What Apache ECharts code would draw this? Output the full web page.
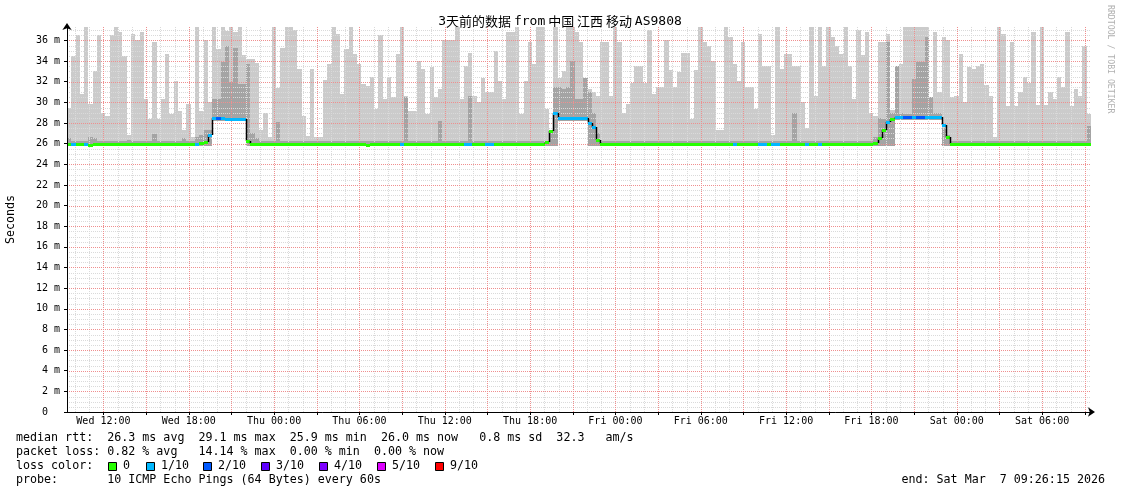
<!DOCTYPE html>
<html><head><meta charset="utf-8">
<script src="https://cdn.jsdelivr.net/npm/echarts@6/dist/echarts.min.js"></script>
<style>html,body{margin:0;padding:0;background:#fff}#c{width:1121px;height:494px}</style>
</head><body><div id="c"></div>
<script>
// ---- data (18-minute bins, 3 days ending Sat Mar 7 09:26:15 2026) ----
const binHours = 0.3;
const hiMs = [
29.5,34.5,36.5,30.8,37.3,29.8,33,36.5,29,28.7,36.5,37.3,36.8,34.5,26.8,36.6,36,36.8,30.3,28.4,
35.8,28.4,30.3,34.7,28.9,32.1,29.2,27.3,29.8,26.6,37.3,29.2,36,30,37.3,35.2,37.3,36.9,37.3,36.8,
37.3,34.6,34.2,34.2,33.8,27.3,29,26.6,37.3,31.4,35.3,37.3,37.3,37,33.2,28.7,26.7,33.2,26.6,26.6,
32.2,33.7,37.3,36.6,30.8,35.2,37.3,34.7,33.7,31.8,31.6,32.5,29.4,36.5,30.3,32.5,30.5,34.7,37.3,30.6,
29.2,29.2,34,33.2,28.9,33.4,30.5,31.3,36,36,36,37.3,30.3,33.5,34.8,30.6,30,32.4,31,31,
35,32.1,30.3,36.8,36.8,37.3,28.9,32.1,35.8,33.7,37.3,37.3,29.4,27.3,37.3,32.4,33,37.3,37.3,36.8,
35.8,32.4,31.3,31,30.6,35.8,35.8,30.6,37.3,35.8,29,29.8,31.9,33.5,33.5,31.9,37,30.8,31.5,31.5,
36,33.1,31.5,32.9,34.8,34.8,28.4,33.1,37.3,35.8,35.5,34,27.3,27.3,37.3,36.3,33.7,32.1,35.8,31.5,
31.5,29.4,36.6,33.5,33.5,26.8,37.3,33.2,34.7,34.7,33.5,33.5,30,27.5,37.3,30.6,37.3,33.5,37.3,36.3,
35.5,34.7,37.3,33.5,30.3,37,34.6,36.8,29,28.7,35.8,35.8,36.6,29.3,33.5,33.7,37.3,37.3,37.3,37.3,
37.3,37.3,30.5,36.8,31,36.3,36,30.5,30.6,34.7,30,33.4,33.2,33.5,33.7,31.7,30.6,26.6,37.3,36.6,
29.6,35.8,29.6,31,32.5,31.9,36.8,29.7,37.3,29.7,31,30.3,32.5,31.5,36.8,29.6,31.3,30.6,35.5,28.9
];
const midMs = [
26.5,26.3,26.3,26.3,26.3,26.6,26.5,26.3,26.3,26.3,26.3,26.3,26.3,26.3,26.4,26.3,26.3,26.3,26.3,26.3,
26.9,26.3,26.3,26.3,26.3,26.3,26.3,26.5,26.3,26.3,26.6,26.8,27.3,27.3,30.3,30.3,33.9,35.5,32,35.3,
31.8,31.8,33.7,27,26.5,26.3,26.3,26.3,26.3,28.1,26.3,26.3,26.3,26.3,26.3,26.3,26.3,26.3,26.3,26.3,
26.3,26.3,26.3,26.3,26.3,26.3,26.3,26.3,26.3,26.3,26.3,26.3,26.3,26.3,26.3,26.3,26.3,26.3,26.3,30.5,
26.3,26.3,26.3,26.3,26.3,26.3,26.3,28.2,26.3,26.3,26.3,26.3,26.3,26.3,30.6,26.3,26.3,26.3,26.3,26.3,
26.3,26.3,26.3,26.3,26.3,26.3,26.3,26.3,26.3,26.3,26.3,26.3,26.3,27,31.5,31.5,31.3,31.5,34,30.3,
30.3,32.4,31,29,27,26.3,26.3,26.3,26.3,26.3,26.3,26.3,26.3,26.3,26.3,26.3,26.3,26.3,26.3,26.3,
26.3,26.3,26.3,26.3,26.3,26.3,26.3,26.3,26.3,26.3,26.3,26.3,26.3,26.3,26.3,26.3,26.3,26.3,26.3,26.3,
26.3,26.3,26.3,26.3,26.3,26.3,26.3,26.3,26.3,26.3,29,26.3,26.3,26.3,26.3,26.3,26.3,26.3,26.3,26.3,
26.3,26.3,26.3,26.3,26.3,26.3,26.3,26.3,26.3,26.6,28.5,28.4,35.8,29,33.5,29,28.9,28.9,32.3,33.9,
33.9,36.3,30.5,29,29,27.5,26.8,26.3,26.3,26.3,26.3,26.3,26.3,26.3,26.3,26.3,26.3,26.3,26.3,26.3,
26.3,26.3,26.3,26.3,26.3,26.3,26.3,26.3,26.3,26.3,26.3,26.3,26.3,26.3,26.3,26.3,26.3,26.3,26.3,27.7
];
const loMs = [
25.75,25.75,25.75,25.75,25.75,25.75,25.75,25.75,25.75,25.75,25.75,25.75,25.75,25.75,25.75,25.75,25.75,25.75,25.75,25.75,
25.75,25.75,25.75,25.75,25.75,25.75,25.75,25.75,25.75,25.75,25.75,25.75,25.75,25.75,28.2,28.2,28.2,28.2,28.2,28.2,
28.2,28.2,25.75,25.75,25.75,25.75,25.75,25.75,25.75,25.75,25.75,25.75,25.75,25.75,25.75,25.75,25.75,25.75,25.75,25.75,
25.75,25.75,25.75,25.75,25.75,25.75,25.75,25.75,25.75,25.75,25.75,25.75,25.75,25.75,25.75,25.75,25.75,25.75,25.75,25.75,
25.75,25.75,25.75,25.75,25.75,25.75,25.75,25.75,25.75,25.75,25.75,25.75,25.75,25.75,25.75,25.75,25.75,25.75,25.75,25.75,
25.75,25.75,25.75,25.75,25.75,25.75,25.75,25.75,25.75,25.75,25.75,25.75,25.75,25.75,25.75,28.2,28.2,28.2,28.2,28.2,
28.2,28.2,25.75,25.75,25.75,25.75,25.75,25.75,25.75,25.75,25.75,25.75,25.75,25.75,25.75,25.75,25.75,25.75,25.75,25.75,
25.75,25.75,25.75,25.75,25.75,25.75,25.75,25.75,25.75,25.75,25.75,25.75,25.75,25.75,25.75,25.75,25.75,25.75,25.75,25.75,
25.75,25.75,25.75,25.75,25.75,25.75,25.75,25.75,25.75,25.75,25.75,25.75,25.75,25.75,25.75,25.75,25.75,25.75,25.75,25.75,
25.75,25.75,25.75,25.75,25.75,25.75,25.75,25.75,25.75,25.75,25.75,25.75,25.75,25.75,28.3,28.3,28.3,28.3,28.3,28.3,
28.3,28.3,28.3,28.3,28.3,25.75,25.75,25.75,25.75,25.75,25.75,25.75,25.75,25.75,25.75,25.75,25.75,25.75,25.75,25.75,
25.75,25.75,25.75,25.75,25.75,25.75,25.75,25.75,25.75,25.75,25.75,25.75,25.75,25.75,25.75,25.75,25.75,25.75,25.75,25.75
];
const medianMs = [
26.0,26.0,26.0,26.0,26.0,25.9,26.0,26.0,26.0,26.0,26.0,26.0,26.0,26.0,26.0,26.0,26.0,26.0,26.0,26.0,
26.0,26.0,26.0,26.0,26.0,26.0,26.0,26.0,26.0,26.0,26.0,26.05,26.2,26.8,28.5,28.5,28.45,28.4,28.4,28.4,
28.4,28.35,26.3,26.0,26.0,26.0,26.0,26.0,26.0,26.0,26.0,26.0,26.0,26.0,26.0,26.0,26.0,26.0,26.0,26.0,
26.0,26.0,26.0,26.0,26.0,26.0,26.0,26.0,26.0,26.0,25.9,26.0,26.0,26.0,26.0,26.0,26.0,26.0,26.0,26.0,
26.0,26.0,26.0,26.0,26.0,26.0,26.0,26.0,26.0,26.0,26.0,26.0,26.0,26.0,26.0,26.0,26.0,26.0,26.0,26.0,
26.0,26.0,26.0,26.0,26.0,26.0,26.0,26.0,26.0,26.0,26.0,26.0,26.2,27.2,29.0,28.5,28.5,28.5,28.5,28.5,
28.5,28.45,28.0,27.6,26.4,26.0,26.0,26.0,26.0,26.0,26.0,26.0,26.0,26.0,26.0,26.0,26.0,26.0,26.0,26.0,
26.0,26.0,26.0,26.0,26.0,26.0,26.0,26.0,26.0,26.0,26.0,26.0,26.0,26.0,26.0,26.0,26.0,26.0,26.0,26.0,
26.0,26.0,26.0,26.0,26.0,26.0,26.0,26.0,26.0,26.0,26.0,26.0,26.0,26.0,26.0,26.0,26.0,26.0,26.0,26.0,
26.0,26.0,26.0,26.0,26.0,26.0,26.0,26.0,26.0,26.1,26.5,27.3,28.1,28.4,28.55,28.55,28.55,28.55,28.55,28.55,
28.55,28.55,28.55,28.55,28.55,27.8,26.6,26.0,26.0,26.0,26.0,26.0,26.0,26.0,26.0,26.0,26.0,26.0,26.0,26.0,
26.0,26.0,26.0,26.0,26.0,26.0,26.0,26.0,26.0,26.0,26.0,26.0,26.0,26.0,26.0,26.0,26.0,26.0,26.0,26.0
];
const lossPings = [
0,1,0,0,1,0,0,0,0,0,0,0,0,0,0,0,0,0,0,0,
0,0,0,0,0,0,0,0,0,0,1,0,0,1,1,2,1,1,1,1,
1,1,0,0,0,0,0,0,0,0,0,0,0,0,0,0,0,0,0,0,
0,0,0,0,0,0,0,0,0,0,0,0,0,0,0,0,0,0,1,0,
0,0,0,0,0,0,0,0,0,0,0,0,0,1,1,0,0,0,1,1,
0,0,0,0,0,0,0,0,0,0,0,0,0,0,1,1,1,1,1,1,
1,1,1,1,0,0,0,0,0,0,0,0,0,0,0,0,0,0,0,0,
0,0,0,0,0,0,0,0,0,0,0,0,0,0,0,0,1,0,0,0,
0,0,1,1,0,1,1,0,0,0,0,0,0,1,0,0,1,0,0,0,
0,0,0,0,0,0,0,0,0,0,0,0,1,0,1,1,2,2,1,2,
2,1,1,1,1,1,0,0,0,0,0,0,0,0,0,0,0,0,0,0,
0,0,0,0,0,0,0,0,0,0,0,0,0,0,0,0,0,0,0,0
];
const tickHours = [2.5625,8.5625,14.5625,20.5625,26.5625,32.5625,38.5625,44.5625,50.5625,56.5625,62.5625,68.5625];
const tickLabels = ['Wed 12:00','Wed 18:00','Thu 00:00','Thu 06:00','Thu 12:00','Thu 18:00','Fri 00:00','Fri 06:00','Fri 12:00','Fri 18:00','Sat 00:00','Sat 06:00'];
const yTickMs = [0,2,4,6,8,10,12,14,16,18,20,22,24,26,28,30,32,34,36];
const lossSteps = [0,1,2,3,4,5,9];
const lossColors = ['#26ff00','#00b8ff','#0059ff','#5e00ff','#7e00ff','#dd00ff','#ff0000'];
const lossNames = ['0','1/10','2/10','3/10','4/10','5/10','9/10'];
const titleParts = ['3','天前的数据\u00a0','from','\u00a0中国\u00a0江西\u00a0移动\u00a0','AS9808'];
const infoLines = [
 'median rtt:  26.3 ms avg  29.1 ms max  25.9 ms min  26.0 ms now   0.8 ms sd  32.3   am/s',
 'packet loss: 0.82 % avg   14.14 % max  0.00 % min  0.00 % now',
 'loss color:',
 'probe:       10 ICMP Echo Pings (64 Bytes) every 60s'
];
const endText = 'end: Sat Mar  7 09:26:15 2026';

// ---- build ----
const MONO = '"DejaVu Sans Mono", monospace';
const X_MAX = 72, Y_MAX = 37.3;
function lossColor(n){ let k=0; for(let j=0;j<lossSteps.length;j++){ if(n>=lossSteps[j]) k=j; } return lossColors[k]; }

const smokeData = hiMs.map((h,i)=>[i*binHours,(i+1)*binHours,loMs[i],midMs[i],h]);
const medData = medianMs.map((m,i)=>[i*binHours,(i+1)*binHours,m,i?medianMs[i-1]:m,lossPings[i]]);
const majorX = [];
for(let k=0;k<24;k++) majorX.push(tickHours[0]+3*k);
const gridData = [];
for(let h=0.5625; h<X_MAX; h+=1){ const mj = majorX.some(m=>Math.abs(m-h)<1e-6); gridData.push([h,0,0,mj?1:0]); }
for(let v=0.5; v<=37.01; v+=0.5){ const mj = Math.abs(v/2-Math.round(v/2))<1e-6; gridData.push([0,v,1,mj?1:0]); }

const chart = echarts.init(document.getElementById('c'), null, {renderer:'canvas', width:1121, height:494});

const graphic = [];
graphic.push({type:'text', x:560, y:21.5, style:{
  text: '{a|'+titleParts[0]+'}{c|'+titleParts[1]+'}{a|'+titleParts[2]+'}{c|'+titleParts[3]+'}{a|'+titleParts[4]+'}',
  rich:{a:{fontFamily:MONO, fontSize:13, fill:'#000'}, c:{fontFamily:'"Noto Sans CJK SC"', fontSize:13, fill:'#000'}},
  align:'center', verticalAlign:'middle'}});
graphic.push({type:'text', x:11, y:219.5, rotation:Math.PI/2, style:{text:'Seconds', fontFamily:MONO, fontSize:11.67, fill:'#000', align:'center', verticalAlign:'middle'}});
graphic.push({type:'text', x:1110.5, y:5, rotation:-Math.PI/2, style:{text:'RRDTOOL / TOBI OETIKER', fontFamily:MONO, fontSize:8.2, fill:'#b0b0b0', align:'left', verticalAlign:'middle'}});
infoLines.forEach((t,i)=>{
  graphic.push({type:'text', x:16, y:438+14*i, style:{text:t, fontFamily:MONO, fontSize:11.67, fill:'#000', align:'left', verticalAlign:'middle'}});
});
const boxX = [108.5,146.5,203.5,261.5,319.5,377.5,435.5];
lossNames.forEach((n,i)=>{
  graphic.push({type:'rect', shape:{x:boxX[i], y:462.5, width:8, height:8}, style:{fill:lossColors[i], stroke:'#000', lineWidth:1}});
  graphic.push({type:'text', x:boxX[i]+14.5, y:466, style:{text:n, fontFamily:MONO, fontSize:11.67, fill:'#000', align:'left', verticalAlign:'middle'}});
});
graphic.push({type:'text', x:1105, y:480, style:{text:endText, fontFamily:MONO, fontSize:11.67, fill:'#000', align:'right', verticalAlign:'middle'}});

const option = {
  animation:false,
  backgroundColor:'#ffffff',
  grid:{left:67, top:27, width:1024, height:385, show:false},
  xAxis:{type:'value', min:0, max:X_MAX, z:10,
    axisLine:{show:true, onZero:false, lineStyle:{color:'#000', width:1}, symbol:['none','arrow'], symbolSize:[7,7], symbolOffset:[0,4]},
    axisTick:{show:true, customValues:majorX, length:3, lineStyle:{color:'#000'}},
    axisLabel:{show:true, customValues:tickHours, hideOverlap:false, margin:4,
      formatter:v=>{ const k=tickHours.findIndex(h=>Math.abs(h-v)<1e-6); return k>=0?tickLabels[k]:''; },
      fontFamily:MONO, fontSize:10, color:'#000'},
    splitLine:{show:false}, minorTick:{show:false}, minorSplitLine:{show:false}},
  yAxis:{type:'value', min:0, max:Y_MAX, z:10,
    axisLine:{show:true, onZero:false, lineStyle:{color:'#000', width:1}, symbol:['none','arrow'], symbolSize:[7,7], symbolOffset:[0,4]},
    axisTick:{show:true, customValues:yTickMs, length:3, lineStyle:{color:'#000'}},
    axisLabel:{show:true, customValues:yTickMs, hideOverlap:false, margin:7,
      formatter:v=> (v===0 ? '0  ' : v+' m'), fontFamily:MONO, fontSize:10, color:'#000'},
    splitLine:{show:false}},
  series:[
    {type:'custom', name:'smoke', z:1, silent:true, data:smokeData, encode:{x:[0,1], y:[2,3,4]},
     renderItem:(params, api)=>{
       const x0=Math.round(api.coord([api.value(0),0])[0]);
       const x1=Math.round(api.coord([api.value(1),0])[0]);
       const yLo=Math.round(api.coord([0,api.value(2)])[1]);
       const yMid=Math.round(api.coord([0,api.value(3)])[1]);
       const yHi=Math.round(api.coord([0,api.value(4)])[1]);
       return {type:'group', children:[
         {type:'rect', shape:{x:x0,y:yHi,width:x1-x0,height:Math.max(0,yLo-yHi)}, style:{fill:'#cbcbcb'}},
         {type:'rect', shape:{x:x0,y:yMid,width:x1-x0,height:Math.max(0,yLo-yMid)}, style:{fill:'#a4a4a4'}}
       ]};
     }},
    {type:'custom', name:'grid', z:2, silent:true, data:gridData, encode:{x:0, y:1},
     renderItem:(params, api)=>{
       const cs=params.coordSys;
       const kind=api.value(2), mj=api.value(3);
       let shape;
       if(kind===0){ const x=Math.round(api.coord([api.value(0),0])[0])+0.5; shape={x1:x,y1:cs.y,x2:x,y2:cs.y+cs.height}; }
       else { const y=Math.round(api.coord([0,api.value(1)])[1])+0.5; shape={x1:cs.x,y1:y,x2:cs.x+cs.width,y2:y}; }
       return {type:'line', z2: mj?2:1, shape, style:{stroke: mj?'#ef8f8f':'#dadada', lineWidth:1, lineDash:[1,1]}};
     }},
    {type:'custom', name:'median', z:3, silent:true, data:medData, encode:{x:[0,1], y:[2,3]},
     renderItem:(params, api)=>{
       const x0=Math.round(api.coord([api.value(0),0])[0]);
       const x1=Math.round(api.coord([api.value(1),0])[0]);
       const y=Math.round(api.coord([0,api.value(2)])[1]);
       const yp=Math.round(api.coord([0,api.value(3)])[1]);
       const ch=[];
       if(Math.abs(y-yp)>1) ch.push({type:'line', shape:{x1:x0+0.5,y1:yp,x2:x0+0.5,y2:y}, style:{stroke:'#000', lineWidth:1.5}});
       ch.push({type:'rect', shape:{x:x0,y:y-1,width:x1-x0,height:3}, style:{fill:lossColor(api.value(4))}});
       return {type:'group', children:ch};
     }}
  ],
  graphic
};
chart.setOption(option);
</script>
</body></html>
